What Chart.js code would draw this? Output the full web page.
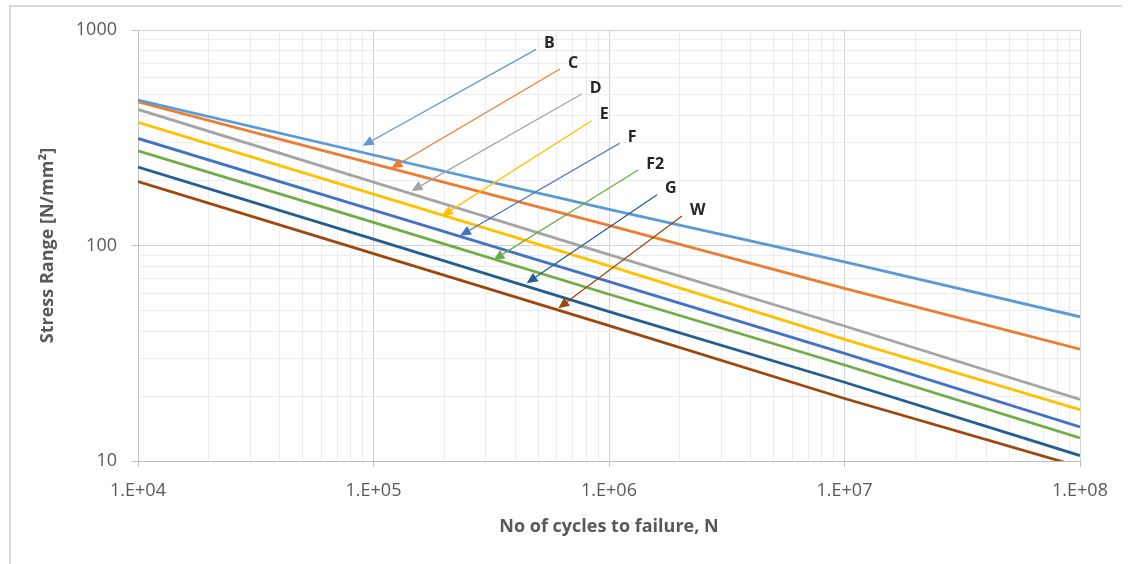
<!DOCTYPE html>
<html>
<head>
<meta charset="utf-8">
<script src="https://cdn.jsdelivr.net/npm/chart.js@4.4.1/dist/chart.umd.min.js"></script>
<style>
  html, body { margin: 0; padding: 0; background: #fff; }
  #wrap { position: relative; width: 1129px; height: 564px; overflow: hidden; }
  #frame { position: absolute; left: 9px; top: 5px; width: 1111px; height: 600px;
           border-top: 2px solid #d9d9d9; border-left: 2px solid #d9d9d9; }
  #chart { position: absolute; left: 0; top: 0; }
</style>
</head>
<body>
<div id="wrap">
  <div id="frame"></div>
  <canvas id="chart" width="1129" height="564"></canvas>
</div>
<script>
// cycles to failure (x) and stress range for each detail class (y)
const cycles = [1e4, 1e5, 1e6, 1e7, 1e8];
const classNames = ['B', 'C', 'D', 'E', 'F', 'F2', 'G', 'W'];
const stressB  = [473, 263, 147, 84, 46.7];
const stressC  = [464, 239, 124, 63.3, 33];
const stressD  = [428, 197, 90.7, 42.3, 19.3];
const stressE  = [373, 173, 80.5, 36.7, 17.3];
const stressF  = [314, 146, 68, 31.6, 14.4];
const stressF2 = [275, 128, 59.4, 27.9, 12.8];
const stressG  = [231, 107, 49.3, 23.2, 10.6];
const stressW  = [198, 91.6, 42.5, 19.5, 9.4];

const xTickLabels = ['1.E+04', '1.E+05', '1.E+06', '1.E+07', '1.E+08'];
const yTickLabels = ['10', '100', '1000'];

// callout arrows: label end (tail) and arrow head (tip) in [N, stress]
const arrowTail = [[4.90e5, 813], [6.19e5, 659], [7.66e5, 505], [8.45e5, 379],
                   [1.11e6, 298], [1.33e6, 224], [1.60e6, 172], [2.04e6, 137]];
const arrowTip  = [[9.0e4, 290], [1.19e5, 228], [1.45e5, 179], [1.95e5, 137],
                   [2.33e5, 111], [3.23e5, 85.7], [4.47e5, 66.8], [6.09e5, 51.1]];

const colors = ['#5b9bd5', '#ed7d31', '#a5a5a5', '#ffc000', '#4472c4', '#70ad47', '#255e91', '#9e480e'];
const series = [stressB, stressC, stressD, stressE, stressF, stressF2, stressG, stressW];

const txt = '#595959';
const fontFam = "'Open Sans', 'Liberation Sans', sans-serif";

function isDecade(v) {
    const l = Math.log10(v);
    return Math.abs(l - Math.round(l)) < 1e-6;
}

function logTicks(min, max) {
    const out = [];
    for (let e = Math.round(Math.log10(min)); e < Math.round(Math.log10(max)); e++) {
        for (let s = 1; s < 10; s++) out.push({ value: s * Math.pow(10, e) });
    }
    out.push({ value: max });
    return out;
}

const arrowPlugin = {
    id: 'arrows',
    afterDatasetsDraw(chart) {
        const ctx = chart.ctx;
        const xs = chart.scales.x, ys = chart.scales.y;
        ctx.save();
        classNames.forEach((name, i) => {
            const x0 = xs.getPixelForValue(arrowTail[i][0]);
            const y0 = ys.getPixelForValue(arrowTail[i][1]);
            const x1 = xs.getPixelForValue(arrowTip[i][0]);
            const y1 = ys.getPixelForValue(arrowTip[i][1]);
            const ang = Math.atan2(y1 - y0, x1 - x0);
            const headLen = 11, headW = 5;
            const bx = x1 - headLen * Math.cos(ang), by = y1 - headLen * Math.sin(ang);
            ctx.strokeStyle = colors[i];
            ctx.fillStyle = colors[i];
            ctx.lineWidth = 1.3;
            ctx.beginPath();
            ctx.moveTo(x0, y0);
            ctx.lineTo(bx, by);
            ctx.stroke();
            ctx.beginPath();
            ctx.moveTo(x1, y1);
            ctx.lineTo(bx + headW * Math.sin(ang), by - headW * Math.cos(ang));
            ctx.lineTo(bx - headW * Math.sin(ang), by + headW * Math.cos(ang));
            ctx.closePath();
            ctx.fill();

            ctx.fillStyle = '#262626';
            ctx.font = "bold 16px " + fontFam;
            ctx.textAlign = 'left';
            ctx.textBaseline = 'middle';
            ctx.fillText(name, x0 + 8, y0 - 6);
        });
        ctx.restore();
    }
};

const datasets = classNames.map((name, i) => ({
    label: name,
    data: cycles.map((n, k) => ({ x: n, y: series[i][k] })),
    borderColor: colors[i],
    backgroundColor: colors[i],
    borderWidth: 2.8,
    pointRadius: 0,
    tension: 0,
    fill: false
}));

function gridOpts() {
    return {
        color: (c) => (c.tick && isDecade(c.tick.value)) ? '#d4d4d4' : '#ececec',
        tickColor: (c) => (c.tick && isDecade(c.tick.value)) ? '#bfbfbf' : 'rgba(0,0,0,0)',
        tickLength: 6,
        lineWidth: 1
    };
}

new Chart(document.getElementById('chart'), {
    type: 'line',
    data: { datasets: datasets },
    options: {
        responsive: false,
        animation: false,
        layout: { padding: { left: 0, right: 49, top: 30, bottom: 0 } },
        plugins: { legend: { display: false }, tooltip: { enabled: false } },
        scales: {
            x: {
                type: 'logarithmic',
                min: cycles[0],
                max: cycles[cycles.length - 1],
                afterBuildTicks: (s) => { s.ticks = logTicks(s.min, s.max); },
                afterFit: (s) => { s.height = 103; },
                grid: gridOpts(),
                border: { color: '#bfbfbf', width: 1 },
                ticks: {
                    autoSkip: false,
                    maxRotation: 0,
                    padding: 13,
                    color: txt,
                    font: { family: fontFam, size: 18 },
                    callback: (v) => isDecade(v) ? xTickLabels[Math.round(Math.log10(v)) - 4] : ''
                },
                title: {
                    display: true,
                    text: 'No of cycles to failure, N',
                    color: txt,
                    font: { family: fontFam, size: 18, weight: 'bold' },
                    padding: { top: 0, bottom: 26 }
                }
            },
            y: {
                type: 'logarithmic',
                min: 10,
                max: 1000,
                afterBuildTicks: (s) => { s.ticks = logTicks(s.min, s.max); },
                afterFit: (s) => { s.width = 138; },
                grid: gridOpts(),
                border: { color: '#bfbfbf', width: 1 },
                ticks: {
                    autoSkip: false,
                    padding: 15,
                    color: txt,
                    font: { family: fontFam, size: 18 },
                    callback: (v) => isDecade(v) ? yTickLabels[Math.round(Math.log10(v)) - 1] : ''
                },
                title: {
                    display: true,
                    text: 'Stress Range [N/mm²]',
                    color: txt,
                    font: { family: fontFam, size: 18, weight: 'bold' },
                    padding: { top: 37, bottom: 0 }
                }
            }
        }
    },
    plugins: [arrowPlugin]
});
</script>
</body>
</html>
